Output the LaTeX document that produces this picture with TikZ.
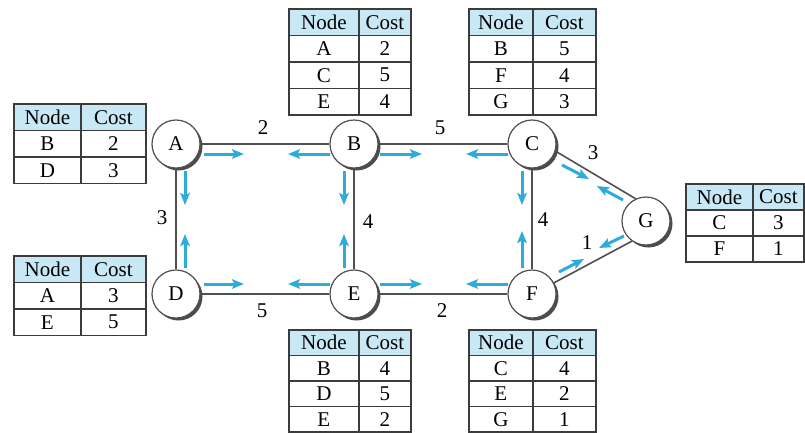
\documentclass[tikz,border=0pt]{standalone}
\usepackage{fontspec}
\setmainfont{Liberation Serif}
\usetikzlibrary{arrows.meta,shadows,matrix,backgrounds}
\definecolor{msgblue}{RGB}{45,172,220}
\definecolor{headblue}{RGB}{200,232,245}
\definecolor{edgegray}{RGB}{80,80,80}
\definecolor{tabline}{RGB}{60,60,60}
\newcommand\bigfont{\fontsize{21}{21}\selectfont}
\begin{document}
\begin{tikzpicture}[x=1pt,y=-1pt,
  vtx/.style={circle, draw=edgegray, line width=1.2pt, fill=white, minimum size=48pt,
    inner sep=0pt, font=\bigfont,
    drop shadow={shadow xshift=2.5pt, shadow yshift=-2.5pt, fill=black!70, opacity=1}},
  edge/.style={draw=edgegray, line width=1.6pt},
  msg/.style={draw=msgblue, line width=3pt, -{Stealth[length=12pt,width=9.5pt,inset=2.5pt]}},
  lbl/.style={font=\bigfont, inner sep=0pt},
  tab/.style n args={3}{matrix of nodes, column sep=-1.4pt, row sep=-1.4pt, inner sep=0pt,
    anchor=north west,
    nodes={draw=tabline, line width=1.4pt, minimum height=#1, inner sep=0pt,
      font=\bigfont, anchor=center},
    column 1/.style={nodes={minimum width=#2}},
    column 2/.style={nodes={minimum width=#3}},
    row 1/.style={nodes={fill=headblue}}}
]
\useasboundingbox (0,0) rectangle (805,432);

% vertices
\node[vtx] (A) at (176,144) {A};
\node[vtx] (B) at (354,144) {B};
\node[vtx] (C) at (532,144) {C};
\node[vtx] (D) at (176,294) {D};
\node[vtx] (E) at (354,294) {E};
\node[vtx] (F) at (532,294) {F};
\node[vtx] (G) at (646,221) {G};

% edges
\begin{scope}[on background layer]
\fill[white] (0,0) rectangle (805,432);
\draw[edge] (A) -- (B);
\draw[edge] (B) -- (C);
\draw[edge] (A) -- (D);
\draw[edge] (B) -- (E);
\draw[edge] (C) -- (F);
\draw[edge] (D) -- (E);
\draw[edge] (E) -- (F);
\draw[edge] (C.-17) -- (G.115);
\draw[edge] (F.27) -- (G.235);
\end{scope}

% edge labels
\node[lbl] (lAB) at (263,128) {2};
\node[lbl] (lBC) at (440,128) {5};
\node[lbl] (lAD) at (162,218) {3};
\node[lbl] (lBE) at (368,222) {4};
\node[lbl] (lCF) at (543,220) {4};
\node[lbl] (lCG) at (593,153) {3};
\node[lbl] (lFG) at (587,243) {1};
\node[lbl] (lDE) at (262,311) {5};
\node[lbl] (lEF) at (442,311) {2};

% messages (blue arrows)
\draw[msg] (204,154) -- (244,154);
\draw[msg] (330,154) -- (288,154);
\draw[msg] (380,154) -- (422,154);
\draw[msg] (508,154) -- (466,154);
\draw[msg] (204,284) -- (244,284);
\draw[msg] (330,284) -- (288,284);
\draw[msg] (380,284) -- (422,284);
\draw[msg] (508,284) -- (466,284);
\draw[msg] (185,171) -- (185,205);
\draw[msg] (185,268) -- (185,234);
\draw[msg] (344,171) -- (344,205);
\draw[msg] (344,268) -- (344,234);
\draw[msg] (522,171) -- (522,205);
\draw[msg] (522,268) -- (522,231);
\draw[msg] (562,165) -- (589,179);
\draw[msg] (623,200) -- (597,186);
\draw[msg] (559,272) -- (584,259);
\draw[msg] (624,236) -- (599,248);

% routing tables
\matrix[tab={26.5pt}{67pt}{65pt}] (tA) at (13,103) {Node & Cost \\ B & 2 \\ D & 3 \\};
\matrix[tab={26.5pt}{67pt}{65pt}] (tD) at (13,255) {Node & Cost \\ A & 3 \\ E & 5 \\};
\matrix[tab={26.5pt}{70pt}{52pt}] (tB) at (288,8) {Node & Cost \\ A & 2 \\ C & 5 \\ E & 4 \\};
\matrix[tab={26.5pt}{64pt}{63pt}] (tC) at (468,8) {Node & Cost \\ B & 5 \\ F & 4 \\ G & 3 \\};
\matrix[tab={26pt}{67pt}{51pt}] (tG) at (685,183) {Node & Cost \\ C & 3 \\ F & 1 \\};
\matrix[tab={25.5pt}{70pt}{52pt}] (tE) at (288,329) {Node & Cost \\ B & 4 \\ D & 5 \\ E & 2 \\};
\matrix[tab={25.5pt}{64pt}{63pt}] (tF) at (468,329) {Node & Cost \\ C & 4 \\ E & 2 \\ G & 1 \\};
\end{tikzpicture}
\end{document}
